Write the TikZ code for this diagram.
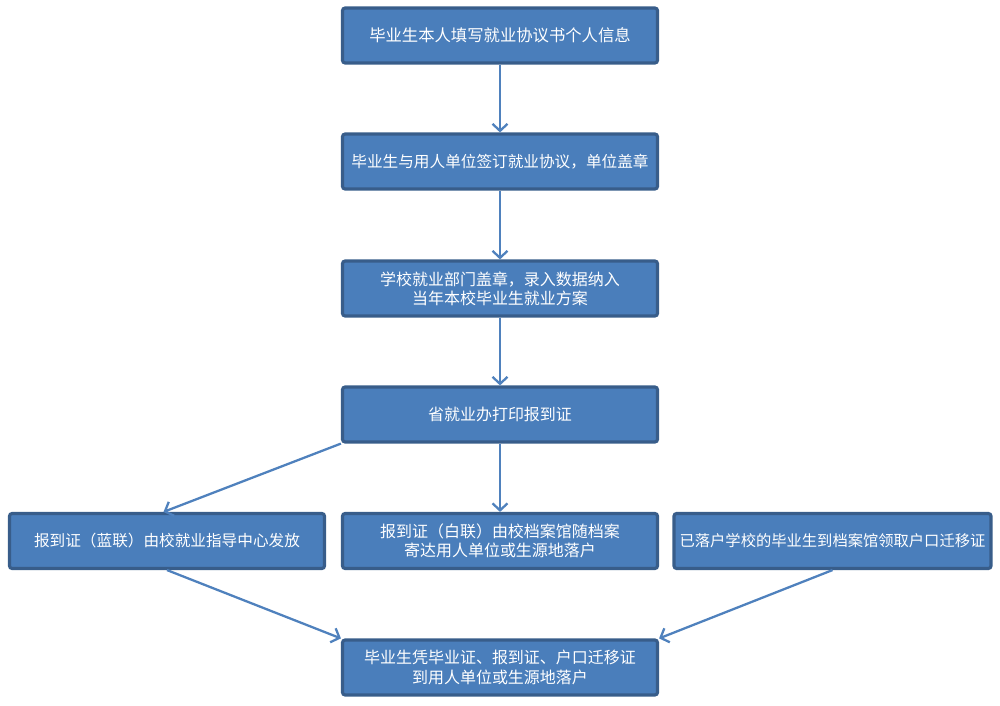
\documentclass[tikz,border=0pt]{standalone}
\usepackage{fontspec}
\setmainfont{Noto Sans CJK SC}
\usetikzlibrary{arrows.meta}
\definecolor{boxfill}{HTML}{4A7EBB}
\definecolor{boxline}{HTML}{385D8A}
\definecolor{arrowline}{HTML}{4F81BD}
\begin{document}
\begin{tikzpicture}[
		stepbox/.style={draw=boxline, line width=1.8pt, fill=boxfill, rounded corners=1.5pt,
			minimum width=6.3cm, minimum height=1.1cm, text=white, align=center,
			font=\fontsize{9.1pt}{11pt}\selectfont, inner sep=0pt},
		flow/.style={arrowline, line width=1.3pt, -{Straight Barb[length=1.4mm,width=3mm]}}
	]
		\useasboundingbox (0,0) rectangle (20,-14.12);
		
		% boxes
		\node[stepbox, font=\fontsize{9.3pt}{11pt}\selectfont] (info) at (10,-0.71) {毕业生本人填写就业协议书个人信息};
		\node[stepbox, font=\fontsize{8.9pt}{11pt}\selectfont] (sign) at (10,-3.23) {毕业生与用人单位签订就业协议，单位盖章};
		\node[stepbox] (plan) at (10,-5.77) {学校就业部门盖章，录入数据纳入\\当年本校毕业生就业方案};
		\node[stepbox] (print) at (10,-8.29) {省就业办打印报到证};
		
		\node[stepbox, font=\fontsize{8.9pt}{11pt}\selectfont] (blue) at (3.34,-10.82) {报到证（蓝联）由校就业指导中心发放};
		\node[stepbox] (white) at (10,-10.82) {报到证（白联）由校档案馆随档案\\寄达用人单位或生源地落户};
		\node[stepbox, minimum width=6.34cm, font=\fontsize{8.7pt}{11pt}\selectfont] (hukou) at (16.65,-10.82) {已落户学校的毕业生到档案馆领取户口迁移证};
		
		\node[stepbox] (report) at (10,-13.35) {毕业生凭毕业证、报到证、户口迁移证\\到用人单位或生源地落户};
		
		% arrows
		\draw[flow] (info) -- (sign);
		\draw[flow] (sign) -- (plan);
		\draw[flow] (plan) -- (print);
		\draw[flow] (print.south west) -- ([xshift=-2pt]blue.north);
		\draw[flow] (print) -- (white);
		\draw[flow] (blue.south) -- (report.north west);
		\draw[flow] (hukou.south) -- (report.north east);
	\end{tikzpicture}
\end{document}
